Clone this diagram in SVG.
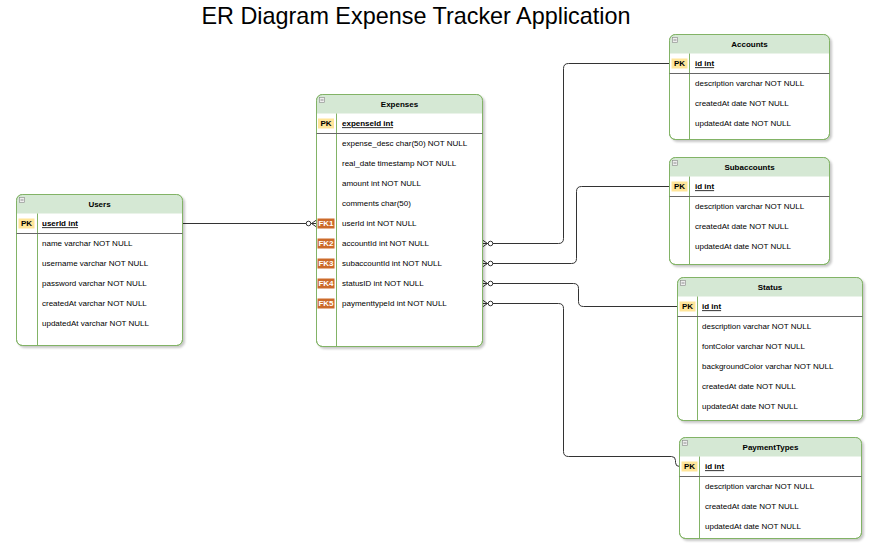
<svg xmlns="http://www.w3.org/2000/svg" width="875" height="549" viewBox="0 0 875 549">
<style>
.bg{fill:#fff;stroke:#82b366;stroke-width:1}
.hd{fill:#d5e8d4;stroke:none}
.bd{fill:none;stroke:#82b366;stroke-width:1}
.dv{stroke:#82b366;stroke-width:1}
.sp{stroke:#666;stroke-width:1}
.ic{fill:#eeeeee;stroke:#888;stroke-width:0.6}
.icl{stroke:#666;stroke-width:0.7}
.t{font-family:"Liberation Sans",Arial,Helvetica,sans-serif;font-size:8px;fill:#000}
.h{font-weight:bold;text-anchor:middle}
.pk{font-weight:bold;text-decoration:underline}
.pkb{fill:#ffe599}
.fkb{fill:#cc6a2a}
.bt{font-weight:bold;text-anchor:middle}
.fkt{fill:#fff}
.title{font-family:"Liberation Sans",Arial,Helvetica,sans-serif;font-size:23.4px;fill:#000;text-anchor:middle}
.cn{fill:none;stroke:#333;stroke-width:1}
</style>
<defs>
<filter id="sh" x="-10%" y="-10%" width="120%" height="120%">
<feDropShadow dx="2" dy="2" stdDeviation="1" flood-color="#000" flood-opacity="0.22"/>
</filter>
<marker id="zm" markerUnits="userSpaceOnUse" viewBox="0 -5 12 10" refX="0" refY="0" markerWidth="12" markerHeight="10" orient="auto">
<path d="M0,-3.5 L5,0 M0,0 L5,0 M0,3.5 L5,0" fill="none" stroke="#333" stroke-width="1"/>
<circle cx="8" cy="0" r="2.3" fill="#fff" stroke="#333" stroke-width="1"/>
</marker>
</defs>

<text class="title" x="416" y="24">ER Diagram Expense Tracker Application</text>

<g id="connectors">
<path class="cn" marker-start="url(#zm)" d="M316.5,223.5 H182.5"/>
<path class="cn" marker-start="url(#zm)" d="M482.5,243.5 H558.5 Q563.5,243.5 563.5,238.5 V68.5 Q563.5,63.5 568.5,63.5 H669.5"/>
<path class="cn" marker-start="url(#zm)" d="M482.5,263.5 H571.5 Q576.5,263.5 576.5,258.5 V191.5 Q576.5,186.5 581.5,186.5 H669.5"/>
<path class="cn" marker-start="url(#zm)" d="M482.5,283.5 H573.5 Q578.5,283.5 578.5,288.5 V301.5 Q578.5,306.5 583.5,306.5 H677.5"/>
<path class="cn" marker-start="url(#zm)" d="M482.5,303.5 H558.5 Q563.5,303.5 563.5,308.5 V451.5 Q563.5,456.5 568.5,456.5 H671.5 Q675.5,456.5 675.5,460.5 V462.5 Q675.5,466.5 679.5,466.5"/>
</g>

<g id="users">
<rect class="bg" filter="url(#sh)" x="16.5" y="194.5" width="166" height="151" rx="6"/>
<path class="hd" d="M16.5,213.5 V200.5 Q16.5,194.5 22.5,194.5 H176.5 Q182.5,194.5 182.5,200.5 V213.5 Z"/>
<rect class="bd" x="16.5" y="194.5" width="166" height="151" rx="6"/>
<line class="dv" x1="37.5" y1="213.5" x2="37.5" y2="345.5"/>
<line class="sp" x1="16.5" y1="233.5" x2="182.5" y2="233.5"/>
<rect class="ic" x="19.5" y="197.5" width="5" height="5"/><line class="icl" x1="20.5" y1="200" x2="23.5" y2="200"/>
<text class="t h" x="99.5" y="206.8">Users</text>
<rect class="pkb" x="18.5" y="218.5" width="16" height="10"/>
<text class="t bt" x="26.5" y="226.3">PK</text>
<text class="t pk" x="42" y="226.3">userId int</text>
<text class="t" x="42" y="246.3">name varchar NOT NULL</text>
<text class="t" x="42" y="266.3">username varchar NOT NULL</text>
<text class="t" x="42" y="286.3">password varchar NOT NULL</text>
<text class="t" x="42" y="306.3">createdAt varchar NOT NULL</text>
<text class="t" x="42" y="326.3">updatedAt varchar NOT NULL</text>
</g>

<g id="expenses">
<rect class="bg" filter="url(#sh)" x="316.5" y="94.5" width="166" height="252" rx="6"/>
<path class="hd" d="M316.5,113.5 V100.5 Q316.5,94.5 322.5,94.5 H476.5 Q482.5,94.5 482.5,100.5 V113.5 Z"/>
<rect class="bd" x="316.5" y="94.5" width="166" height="252" rx="6"/>
<line class="dv" x1="336.5" y1="113.5" x2="336.5" y2="346.5"/>
<line class="sp" x1="316.5" y1="133.5" x2="482.5" y2="133.5"/>
<rect class="ic" x="319.5" y="97.5" width="5" height="5"/><line class="icl" x1="320.5" y1="100" x2="323.5" y2="100"/>
<text class="t h" x="399.5" y="106.8">Expenses</text>
<rect class="pkb" x="318" y="118.5" width="16" height="10"/>
<text class="t bt" x="326" y="126.3">PK</text>
<text class="t pk" x="342" y="126.3">expenseId int</text>
<text class="t" x="342" y="146.3">expense_desc char(50) NOT NULL</text>
<text class="t" x="342" y="166.3">real_date timestamp NOT NULL</text>
<text class="t" x="342" y="186.3">amount int NOT NULL</text>
<text class="t" x="342" y="206.3">comments char(50)</text>
<rect class="fkb" x="317.5" y="218.5" width="17" height="10"/>
<text class="t bt fkt" x="326" y="226.3">FK1</text>
<text class="t" x="342" y="226.3">userId int NOT NULL</text>
<rect class="fkb" x="317.5" y="238.5" width="17" height="10"/>
<text class="t bt fkt" x="326" y="246.3">FK2</text>
<text class="t" x="342" y="246.3">accountId int NOT NULL</text>
<rect class="fkb" x="317.5" y="258.5" width="17" height="10"/>
<text class="t bt fkt" x="326" y="266.3">FK3</text>
<text class="t" x="342" y="266.3">subaccountId int NOT NULL</text>
<rect class="fkb" x="317.5" y="278.5" width="17" height="10"/>
<text class="t bt fkt" x="326" y="286.3">FK4</text>
<text class="t" x="342" y="286.3">statusID int NOT NULL</text>
<rect class="fkb" x="317.5" y="298.5" width="17" height="10"/>
<text class="t bt fkt" x="326" y="306.3">FK5</text>
<text class="t" x="342" y="306.3">paymenttypeId int NOT NULL</text>
</g>

<g id="accounts">
<rect class="bg" filter="url(#sh)" x="669.5" y="34.5" width="160" height="105" rx="6"/>
<path class="hd" d="M669.5,53.5 V40.5 Q669.5,34.5 675.5,34.5 H823.5 Q829.5,34.5 829.5,40.5 V53.5 Z"/>
<rect class="bd" x="669.5" y="34.5" width="160" height="105" rx="6"/>
<line class="dv" x1="689.5" y1="53.5" x2="689.5" y2="139.5"/>
<line class="sp" x1="669.5" y1="73.5" x2="829.5" y2="73.5"/>
<rect class="ic" x="672.5" y="37.5" width="5" height="5"/><line class="icl" x1="673.5" y1="40" x2="676.5" y2="40"/>
<text class="t h" x="749.5" y="46.8">Accounts</text>
<rect class="pkb" x="671.5" y="58.5" width="16" height="10"/>
<text class="t bt" x="679.5" y="66.3">PK</text>
<text class="t pk" x="695" y="66.3">id int</text>
<text class="t" x="695" y="86.3">description varchar NOT NULL</text>
<text class="t" x="695" y="106.3">createdAt date NOT NULL</text>
<text class="t" x="695" y="126.3">updatedAt date NOT NULL</text>
</g>

<g id="subaccounts">
<rect class="bg" filter="url(#sh)" x="669.5" y="157.5" width="160" height="107" rx="6"/>
<path class="hd" d="M669.5,176.5 V163.5 Q669.5,157.5 675.5,157.5 H823.5 Q829.5,157.5 829.5,163.5 V176.5 Z"/>
<rect class="bd" x="669.5" y="157.5" width="160" height="107" rx="6"/>
<line class="dv" x1="689.5" y1="176.5" x2="689.5" y2="264.5"/>
<line class="sp" x1="669.5" y1="196.5" x2="829.5" y2="196.5"/>
<rect class="ic" x="672.5" y="160.5" width="5" height="5"/><line class="icl" x1="673.5" y1="163" x2="676.5" y2="163"/>
<text class="t h" x="749.5" y="169.8">Subaccounts</text>
<rect class="pkb" x="671.5" y="181.5" width="16" height="10"/>
<text class="t bt" x="679.5" y="189.3">PK</text>
<text class="t pk" x="695" y="189.3">id int</text>
<text class="t" x="695" y="209.3">description varchar NOT NULL</text>
<text class="t" x="695" y="229.3">createdAt date NOT NULL</text>
<text class="t" x="695" y="249.3">updatedAt date NOT NULL</text>
</g>

<g id="status">
<rect class="bg" filter="url(#sh)" x="677.5" y="277.5" width="185" height="143" rx="6"/>
<path class="hd" d="M677.5,296.5 V283.5 Q677.5,277.5 683.5,277.5 H856.5 Q862.5,277.5 862.5,283.5 V296.5 Z"/>
<rect class="bd" x="677.5" y="277.5" width="185" height="143" rx="6"/>
<line class="dv" x1="697.5" y1="296.5" x2="697.5" y2="420.5"/>
<line class="sp" x1="677.5" y1="316.5" x2="862.5" y2="316.5"/>
<rect class="ic" x="680.5" y="280.5" width="5" height="5"/><line class="icl" x1="681.5" y1="283" x2="684.5" y2="283"/>
<text class="t h" x="770" y="289.8">Status</text>
<rect class="pkb" x="679.5" y="301.5" width="16" height="10"/>
<text class="t bt" x="687.5" y="309.3">PK</text>
<text class="t pk" x="702" y="309.3">id int</text>
<text class="t" x="702" y="329.3">description varchar NOT NULL</text>
<text class="t" x="702" y="349.3">fontColor varchar NOT NULL</text>
<text class="t" x="702" y="369.3">backgroundColor varchar NOT NULL</text>
<text class="t" x="702" y="389.3">createdAt date NOT NULL</text>
<text class="t" x="702" y="409.3">updatedAt date NOT NULL</text>
</g>

<g id="paymenttypes">
<rect class="bg" filter="url(#sh)" x="679.5" y="437.5" width="182" height="101" rx="6"/>
<path class="hd" d="M679.5,456.5 V443.5 Q679.5,437.5 685.5,437.5 H855.5 Q861.5,437.5 861.5,443.5 V456.5 Z"/>
<rect class="bd" x="679.5" y="437.5" width="182" height="101" rx="6"/>
<line class="dv" x1="699.5" y1="456.5" x2="699.5" y2="538.5"/>
<line class="sp" x1="679.5" y1="476.5" x2="861.5" y2="476.5"/>
<rect class="ic" x="682.5" y="440.5" width="5" height="5"/><line class="icl" x1="683.5" y1="443" x2="686.5" y2="443"/>
<text class="t h" x="770.5" y="449.8">PaymentTypes</text>
<rect class="pkb" x="681.5" y="461.5" width="16" height="10"/>
<text class="t bt" x="689.5" y="469.3">PK</text>
<text class="t pk" x="705" y="469.3">id int</text>
<text class="t" x="705" y="489.3">description varchar NOT NULL</text>
<text class="t" x="705" y="509.3">createdAt date NOT NULL</text>
<text class="t" x="705" y="529.3">updatedAt date NOT NULL</text>
</g>
</svg>
